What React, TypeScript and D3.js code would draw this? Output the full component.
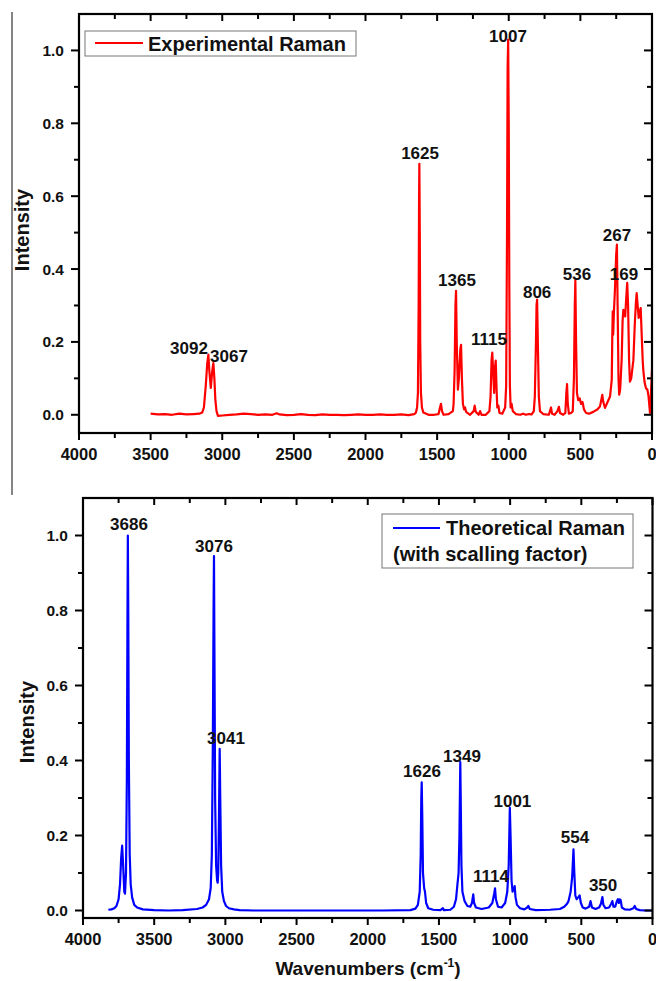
import React from "react";
import * as d3 from "d3";

// ---------- DATA ----------
const xTickValues = [4000, 3500, 3000, 2500, 2000, 1500, 1000, 500, 0];
const yTickValues = [0.0, 0.2, 0.4, 0.6, 0.8, 1.0];

// Experimental Raman spectrum: [wavenumber, intensity]
const expSpectrum: [number, number][] = [
  [3500, 0.003], [3450, 0.001], [3400, 0.002], [3350, 0.0], [3300, 0.003], [3250, 0.001], [3200, 0.002],
  [3160, 0.003], [3140, 0.006], [3128, 0.02], [3115, 0.08], [3105, 0.14], [3097, 0.165], [3090, 0.12],
  [3080, 0.074], [3070, 0.12], [3062, 0.142], [3055, 0.1], [3048, 0.04], [3040, 0.01], [3030, -0.003],
  [3000, -0.002], [2950, 0.0], [2900, 0.001], [2850, 0.003], [2800, 0.002], [2750, 0.0], [2700, 0.001],
  [2650, 0.0], [2620, 0.004], [2600, 0.001], [2550, -0.001], [2500, 0.0], [2450, 0.002], [2400, 0.0],
  [2350, -0.001], [2300, 0.001], [2250, 0.0], [2200, 0.0], [2150, -0.001], [2100, 0.0], [2050, 0.001],
  [2000, 0.0], [1950, 0.0], [1900, 0.001], [1850, 0.0], [1800, 0.0], [1750, 0.001], [1700, -0.001],
  [1660, 0.002], [1648, 0.006], [1640, 0.02], [1634, 0.06], [1629, 0.3], [1626, 0.6], [1624, 0.689],
  [1621, 0.5], [1618, 0.2], [1613, 0.06], [1606, 0.02], [1596, 0.006], [1560, 0.0], [1520, 0.0],
  [1490, 0.002], [1480, 0.02], [1473, 0.03], [1466, 0.01], [1455, 0.0], [1420, 0.002], [1390, 0.01],
  [1385, 0.03], [1378, 0.12], [1372, 0.3], [1368, 0.34], [1363, 0.2], [1355, 0.069], [1348, 0.1],
  [1338, 0.18], [1333, 0.192], [1327, 0.1], [1320, 0.03], [1312, 0.015], [1305, 0.02], [1298, 0.008],
  [1270, 0.0], [1245, 0.01], [1238, 0.025], [1230, 0.008], [1210, 0.0], [1200, 0.01], [1190, 0.0],
  [1160, 0.0], [1135, 0.01], [1127, 0.05], [1120, 0.15], [1115, 0.171], [1108, 0.11], [1102, 0.06],
  [1096, 0.13], [1091, 0.149], [1085, 0.07], [1080, 0.02], [1072, 0.025], [1065, 0.005], [1045, 0.003],
  [1025, 0.02], [1018, 0.08], [1012, 0.5], [1008, 0.95], [1004, 1.03], [1000, 0.8], [996, 0.35],
  [992, 0.08], [987, 0.02], [980, 0.03], [972, 0.01], [950, 0.002], [920, 0.0], [900, 0.003], [880, 0.0],
  [860, 0.002], [840, 0.001], [825, 0.01], [818, 0.05], [810, 0.2], [806, 0.3], [802, 0.316], [797, 0.2],
  [790, 0.05], [782, 0.01], [760, 0.002], [720, 0.0], [705, 0.02], [698, 0.003], [680, 0.0], [660, 0.01],
  [650, 0.022], [642, 0.005], [620, 0.0], [605, 0.005], [598, 0.06], [593, 0.084], [588, 0.03],
  [580, 0.003], [565, 0.005], [553, 0.01], [545, 0.1], [539, 0.3], [535, 0.368], [530, 0.2], [524, 0.06],
  [515, 0.04], [505, 0.045], [495, 0.03], [485, 0.035], [475, 0.015], [460, 0.005], [440, 0.003],
  [410, 0.008], [380, 0.015], [363, 0.023], [352, 0.045], [347, 0.055], [340, 0.035], [328, 0.019],
  [310, 0.035], [293, 0.05], [281, 0.096], [277, 0.22], [274, 0.284], [271, 0.22], [266, 0.28],
  [258, 0.35], [250, 0.44], [245, 0.467], [240, 0.3], [234, 0.1], [229, 0.055], [222, 0.07], [212, 0.15],
  [205, 0.26], [200, 0.288], [193, 0.275], [187, 0.27], [180, 0.32], [173, 0.362], [167, 0.3], [160, 0.15],
  [154, 0.091], [145, 0.1], [130, 0.15], [120, 0.25], [112, 0.31], [107, 0.334], [100, 0.3], [93, 0.266],
  [86, 0.28], [79, 0.293], [72, 0.22], [65, 0.15], [61, 0.124], [52, 0.09], [42, 0.073], [32, 0.069],
  [24, 0.05], [14, 0.005], [7, 0.06], [0, 0.124],
];

// Theoretical Raman spectrum (with scaling factor): [wavenumber, intensity]
const theoSpectrum: [number, number][] = [
  [3822, 0.002], [3800, 0.003], [3780, 0.006], [3765, 0.012], [3750, 0.03], [3740, 0.07], [3732, 0.14],
  [3725, 0.173], [3718, 0.12], [3710, 0.05], [3705, 0.045], [3698, 0.1], [3692, 0.35], [3688, 0.75],
  [3685, 1.0], [3682, 0.8], [3678, 0.4], [3672, 0.15], [3665, 0.07], [3655, 0.035], [3640, 0.015],
  [3620, 0.008], [3580, 0.003], [3500, 0.001], [3400, 0.0], [3300, 0.001], [3200, 0.004], [3160, 0.008],
  [3135, 0.015], [3115, 0.03], [3103, 0.06], [3095, 0.15], [3088, 0.45], [3083, 0.8], [3080, 0.945],
  [3077, 0.7], [3072, 0.3], [3065, 0.12], [3058, 0.08], [3054, 0.074], [3050, 0.1], [3045, 0.25],
  [3040, 0.431], [3036, 0.3], [3030, 0.12], [3022, 0.05], [3010, 0.025], [2995, 0.012], [2975, 0.006],
  [2940, 0.003], [2900, 0.001], [2800, 0.0], [2500, 0.0], [2200, 0.0], [1900, 0.0], [1700, 0.001],
  [1665, 0.005], [1648, 0.015], [1635, 0.05], [1628, 0.15], [1624, 0.3], [1621, 0.342], [1617, 0.25],
  [1612, 0.1], [1604, 0.06], [1598, 0.05], [1590, 0.02], [1575, 0.006], [1540, 0.002], [1490, 0.001],
  [1472, 0.006], [1465, 0.001], [1420, 0.002], [1395, 0.01], [1380, 0.03], [1370, 0.07], [1362, 0.1],
  [1356, 0.2], [1350, 0.396], [1347, 0.3], [1342, 0.12], [1335, 0.05], [1320, 0.025], [1300, 0.012],
  [1280, 0.01], [1268, 0.02], [1259, 0.043], [1253, 0.02], [1240, 0.008], [1200, 0.004], [1150, 0.008],
  [1125, 0.02], [1112, 0.045], [1106, 0.059], [1100, 0.03], [1085, 0.01], [1060, 0.008], [1035, 0.02],
  [1020, 0.05], [1010, 0.12], [1002, 0.274], [997, 0.2], [990, 0.08], [983, 0.05], [975, 0.055],
  [968, 0.065], [962, 0.035], [952, 0.015], [930, 0.006], [900, 0.003], [880, 0.008], [872, 0.012],
  [862, 0.004], [820, 0.001], [720, 0.002], [650, 0.004], [620, 0.01], [600, 0.018], [590, 0.025],
  [575, 0.05], [564, 0.09], [555, 0.163], [549, 0.1], [542, 0.04], [533, 0.03], [522, 0.035],
  [512, 0.04], [503, 0.02], [490, 0.008], [470, 0.005], [445, 0.01], [435, 0.025], [425, 0.008],
  [400, 0.004], [375, 0.008], [362, 0.018], [352, 0.036], [345, 0.015], [330, 0.006], [305, 0.008],
  [290, 0.018], [282, 0.025], [274, 0.01], [262, 0.01], [250, 0.025], [243, 0.03], [236, 0.02],
  [230, 0.03], [224, 0.028], [215, 0.008], [195, 0.003], [160, 0.002], [135, 0.006], [125, 0.012],
  [115, 0.004], [90, 0.001], [50, 0.0], [0, 0.0],
];

// Peak annotations: label text, anchor wavenumber, anchor intensity (text baseline)
const expLabelText = ["3092", "3067", "1625", "1365", "1115", "1007", "806", "536", "267", "169"];
const expLabelWave = [3232, 2953, 1619, 1361, 1138, 1005, 802, 524, 244, 196];
const expLabelInt = [0.168, 0.146, 0.703, 0.354, 0.192, 1.022, 0.321, 0.371, 0.478, 0.371];

const theoLabelText = ["3686", "3076", "3041", "1626", "1349", "1114", "1001", "554", "350"];
const theoLabelWave = [3677, 3080, 2996, 1619, 1338, 1134, 984, 544, 347];
const theoLabelInt = [1.016, 0.955, 0.445, 0.357, 0.397, 0.077, 0.277, 0.179, 0.053];

const FONT = "'Liberation Sans', Arial, Helvetica, sans-serif";

type PanelProps = {
  left: number; right: number; top: number; bottom: number;
  yMin: number; data: [number, number][]; color: string;
  labelText: string[]; labelWave: number[]; labelInt: number[];
};

function Panel({ left, right, top, bottom, yMin, data, color, labelText, labelWave, labelInt }: PanelProps) {
  const x = d3.scaleLinear().domain([4000, 0]).range([left, right]);
  const y = d3.scaleLinear().domain([yMin, 1.1]).range([bottom, top]);
  const line = d3.line<[number, number]>().x((d) => x(d[0])).y((d) => y(d[1]));
  const xMinor = d3.range(0, 4001, 250);
  const yMinor = d3.range(0, 1.01, 0.1);
  const clipId = `clip-${color.replace("#", "")}`;
  return (
    <g>
      <defs>
        <clipPath id={clipId}>
          <rect x={left} y={top} width={right - left} height={bottom - top} />
        </clipPath>
      </defs>
      <path d={line(data) || ""} fill="none" stroke={color} strokeWidth={2.2} strokeLinejoin="round" clipPath={`url(#${clipId})`} />
      <rect x={left} y={top} width={right - left} height={bottom - top} fill="none" stroke="#000" strokeWidth={2.2} />
      {xMinor.map((v) => {
        const major = v % 500 === 0;
        const len = major ? 7 : 5;
        return (
          <g key={`xt${v}`}>
            <line x1={x(v)} x2={x(v)} y1={bottom} y2={bottom + len} stroke="#000" strokeWidth={2} />
            <line x1={x(v)} x2={x(v)} y1={top} y2={top + len} stroke="#000" strokeWidth={2} />
          </g>
        );
      })}
      {yMinor.map((v, i) => {
        const major = i % 2 === 0;
        const len = major ? 8 : 5;
        return (
          <g key={`yt${i}`}>
            <line x1={left - len} x2={left} y1={y(v)} y2={y(v)} stroke="#000" strokeWidth={2} />
            <line x1={right - len} x2={right} y1={y(v)} y2={y(v)} stroke="#000" strokeWidth={2} />
          </g>
        );
      })}
      {xTickValues.map((v) => (
        <text key={`xl${v}`} x={x(v)} y={bottom + 27} textAnchor="middle" fontFamily={FONT} fontWeight="bold" fontSize={16.5} fill="#111">
          {v}
        </text>
      ))}
      {yTickValues.map((v) => (
        <text key={`yl${v}`} x={left - 15} y={y(v) + 5.5} textAnchor="end" fontFamily={FONT} fontWeight="bold" fontSize={15.5} fill="#111">
          {v.toFixed(1)}
        </text>
      ))}
      {labelText.map((t, i) => (
        <text key={`pl${i}`} x={x(labelWave[i])} y={y(labelInt[i])} textAnchor="middle" fontFamily={FONT} fontWeight="bold" fontSize={17} fill="#111">
          {t}
        </text>
      ))}
    </g>
  );
}

export default function App() {
  return (
    <svg width={656} height={981} style={{ position: "absolute", left: 0, top: 0, background: "#fff" }}>
      <rect x={0} y={0} width={656} height={981} fill="#fff" />
      <line x1={12} x2={12} y1={12} y2={495} stroke="#333" strokeWidth={1.2} />

      <Panel left={79} right={652} top={14} bottom={433} yMin={-0.05} data={expSpectrum} color="#ff0000"
        labelText={expLabelText} labelWave={expLabelWave} labelInt={expLabelInt} />
      <text transform="translate(29,230) rotate(-90)" textAnchor="middle" fontFamily={FONT} fontWeight="bold" fontSize={20} fill="#111">Intensity</text>
      <rect x={85} y={31} width={271} height={25} fill="#fff" stroke="#777" strokeWidth={1} />
      <line x1={95} x2={143} y1={43} y2={43} stroke="#ff0000" strokeWidth={2} />
      <text x={148} y={50.5} fontFamily={FONT} fontWeight="bold" fontSize={20} fill="#111">Experimental Raman</text>

      <Panel left={83} right={652.5} top={498} bottom={918} yMin={-0.02} data={theoSpectrum} color="#0000ff"
        labelText={theoLabelText} labelWave={theoLabelWave} labelInt={theoLabelInt} />
      <text transform="translate(34,722) rotate(-90)" textAnchor="middle" fontFamily={FONT} fontWeight="bold" fontSize={20} fill="#111">Intensity</text>
      <rect x={382} y={514} width={251} height={54} fill="#fff" stroke="#777" strokeWidth={1} />
      <line x1={393} x2={440} y1={528} y2={528} stroke="#0000ff" strokeWidth={2} />
      <text x={446} y={535} fontFamily={FONT} fontWeight="bold" fontSize={20} fill="#111">Theoretical Raman</text>
      <text x={393} y={561} fontFamily={FONT} fontWeight="bold" fontSize={20} fill="#111">(with scalling factor)</text>

      <text x={368} y={975} textAnchor="middle" fontFamily={FONT} fontWeight="bold" fontSize={19} fill="#111">
        Wavenumbers (cm<tspan dy={-8} fontSize={12}>-1</tspan><tspan dy={8}>)</tspan>
      </text>
    </svg>
  );
}
